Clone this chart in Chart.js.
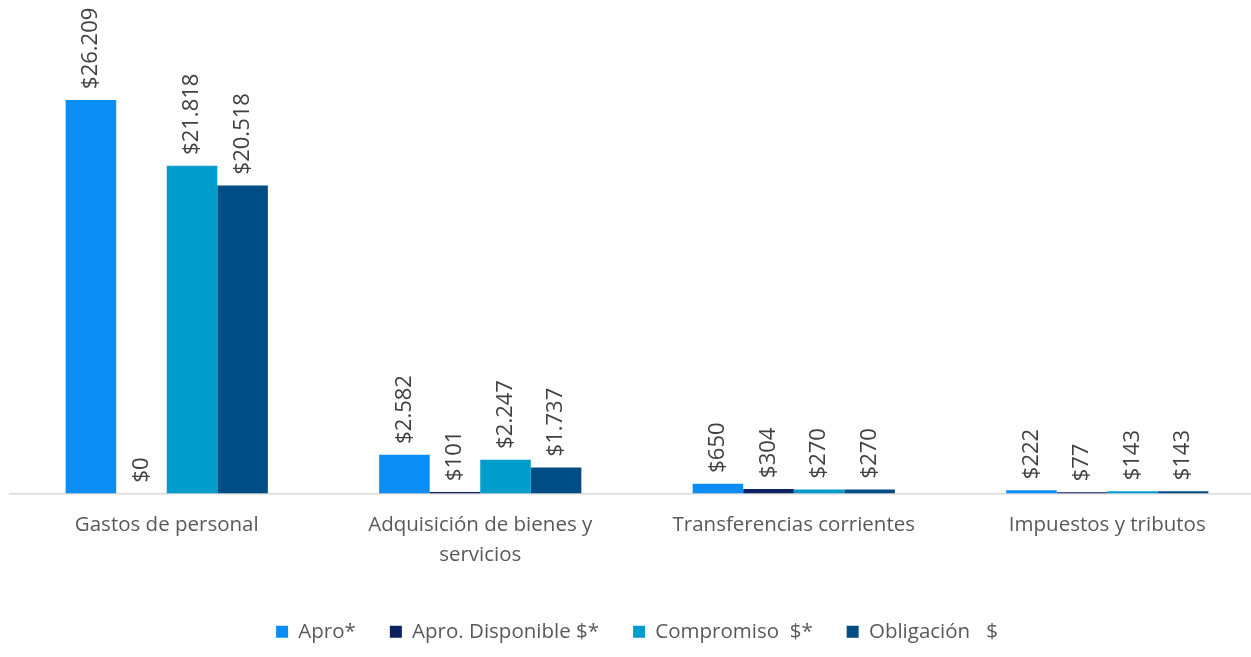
<!DOCTYPE html>
<html>
<head>
<meta charset="utf-8">
<script src="https://cdn.jsdelivr.net/npm/chart.js@4.4.1/dist/chart.umd.min.js"></script>
<style>
  html, body { margin: 0; padding: 0; background: #ffffff; overflow: hidden; }
  #wrap { position: relative; width: 1264px; height: 657px; }
</style>
</head>
<body>
<div id="wrap"><canvas id="c"></canvas></div>
<script>
const categories = ["Gastos de personal", ["Adquisición de bienes y", "servicios"], "Transferencias corrientes", "Impuestos y tributos"];
const seriesNames = ["Apro*", "Apro. Disponible $*", "Compromiso  $*", "Obligación   $"];
const apro = [26209, 2582, 650, 222];
const aproDisponible = [0, 101, 304, 77];
const compromiso = [21818, 2247, 270, 143];
const obligacion = [20518, 1737, 270, 143];
const colors = ["#0A8EF5", "#0B2160", "#009CCC", "#004C85"];

function fmt(v) {
  return "$" + v.toString().replace(/\B(?=(\d{3})+(?!\d))/g, ".");
}

const labelPlugin = {
  id: "rotLabels",
  afterDatasetsDraw(chart) {
    const ctx = chart.ctx;
    ctx.save();
    ctx.font = "22px 'Open Sans'";
    ctx.fillStyle = "#404040";
    ctx.textAlign = "left";
    ctx.textBaseline = "middle";
    chart.data.datasets.forEach((ds, di) => {
      const meta = chart.getDatasetMeta(di);
      meta.data.forEach((el, i) => {
        ctx.save();
        ctx.translate(el.x, el.y - 11);
        ctx.rotate(-Math.PI / 2);
        ctx.fillText(fmt(ds.data[i]), 0, 0);
        ctx.restore();
      });
    });
    ctx.restore();
  }
};

const data = {
  labels: categories,
  datasets: [
    { label: seriesNames[0], data: apro, backgroundColor: colors[0] },
    { label: seriesNames[1], data: aproDisponible, backgroundColor: colors[1] },
    { label: seriesNames[2], data: compromiso, backgroundColor: colors[2] },
    { label: seriesNames[3], data: obligacion, backgroundColor: colors[3] }
  ]
};

new Chart(document.getElementById("c"), {
  type: "bar",
  data: data,
  plugins: [labelPlugin],
  options: {
    responsive: true,
    maintainAspectRatio: false,
    animation: false,
    layout: { padding: { top: 43, left: 10, right: 0, bottom: 5 } },
    datasets: { bar: { categoryPercentage: 0.645, barPercentage: 1.0 } },
    plugins: {
      tooltip: { enabled: false },
      legend: {
        position: "bottom",
        align: "center",
        labels: {
          boxWidth: 12,
          boxHeight: 12,
          padding: 34,
          color: "#595959",
          font: { family: "'Open Sans'", size: 20.5 }
        }
      }
    },
    scales: {
      x: {
        grid: { display: false, drawTicks: false },
        border: { display: true, color: "#D9D9D9", width: 1.5 },
        ticks: {
          color: "#595959",
          padding: 17,
          maxRotation: 0,
          autoSkip: false,
          font: { family: "'Open Sans'", size: 20.5, lineHeight: 1.46 }
        },
        afterFit(scale) { scale.height = 94; }
      },
      y: {
        display: false,
        min: 0,
        max: 30000
      }
    }
  }
});
</script>
</body>
</html>
